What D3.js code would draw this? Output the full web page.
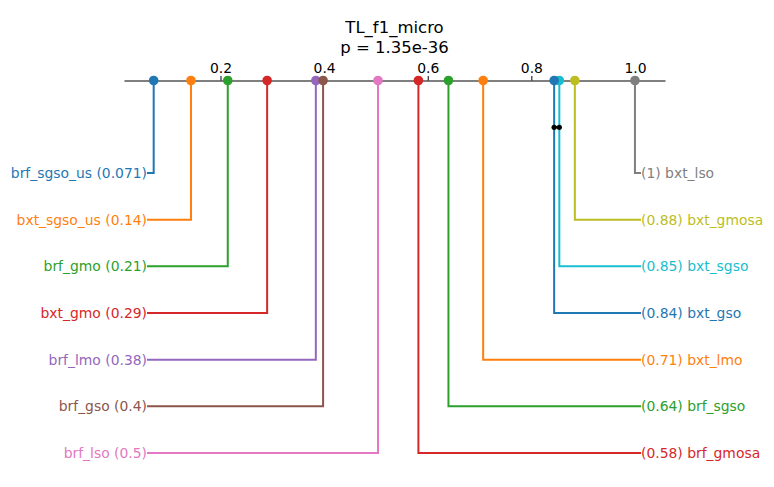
<!DOCTYPE html>
<html>
<head>
<meta charset="utf-8">
<script src="https://cdn.jsdelivr.net/npm/d3@7"></script>
<style>
  html, body { margin: 0; padding: 0; background: #fff; }
  svg { display: block; font-family: "DejaVu Sans", sans-serif; }
</style>
</head>
<body>
<svg id="chart" width="774" height="487"></svg>
<script>
// ---- data ----
const title = "TL_f1_micro";
const pValue = "p = 1.35e-36";
const methods = ["brf_sgso_us", "bxt_sgso_us", "brf_gmo", "bxt_gmo", "brf_lmo", "brf_gso", "brf_lso",
                 "brf_gmosa", "brf_sgso", "bxt_lmo", "bxt_gso", "bxt_sgso", "bxt_gmosa", "bxt_lso"];
const scores = [0.071, 0.143, 0.214, 0.29, 0.384, 0.398, 0.504,
                0.582, 0.64, 0.707, 0.844, 0.854, 0.884, 1.0];
const cliques = [["bxt_gso", "bxt_sgso"]];
const tickValues = [0.2, 0.4, 0.6, 0.8, 1.0];
const axisDomain = [0.0137, 1.058];

// ---- layout ----
const svg = d3.select("#chart");
const colors = d3.schemeCategory10;
const axisY = 80.5;
const x = d3.scaleLinear().domain(axisDomain).range([124, 665]);

const items = methods.map((m, i) => ({ name: m, v: scores[i] }))
  .sort((a, b) => a.v - b.v);
const nLeft = Math.ceil(items.length / 2);
const left = items.slice(0, nLeft);
const right = items.slice(nLeft).reverse();

const rowY = d3.scalePoint().domain(d3.range(nLeft)).range([173, 453]);
const leftX = 147, rightX = 641;

const fmt = d3.format(".2~g");

left.forEach((d, i) => { d.side = "L"; d.row = i; d.color = colors[i % 10]; });
right.forEach((d, i) => { d.side = "R"; d.row = i; d.color = colors[(nLeft + i) % 10]; });
const ordered = left.concat(right);

// title
svg.append("text").attr("x", 394.5).attr("y", 32.5).attr("text-anchor", "middle")
  .attr("font-size", "16.5px").attr("fill", "#000").text(title);
svg.append("text").attr("x", 394.5).attr("y", 52.5).attr("text-anchor", "middle")
  .attr("font-size", "16.5px").attr("fill", "#000").text(pValue);

// axis
const axis = d3.axisTop(x).tickValues(tickValues).tickFormat(d3.format(".1f"))
  .tickSizeInner(4.5).tickSizeOuter(0).tickPadding(3.5);
const gAxis = svg.append("g").attr("transform", `translate(0,${axisY})`).call(axis);
gAxis.select(".domain").attr("stroke", "#000").attr("stroke-width", 1.2);
gAxis.selectAll(".tick line").attr("stroke", "#000").attr("stroke-width", 1);
gAxis.selectAll(".tick text").attr("fill", "#000").attr("font-size", "13.9px")
  .attr("font-family", "DejaVu Sans, sans-serif");

// connector lines
const gLines = svg.append("g");
ordered.forEach(d => {
  const px = x(d.v), py = rowY(d.row);
  const ex = d.side === "L" ? leftX : rightX;
  gLines.append("path")
    .attr("d", `M${px},${axisY}V${py}H${ex}`)
    .attr("fill", "none").attr("stroke", d.color).attr("stroke-width", 2);
  svg.append("text")
    .attr("x", d.side === "L" ? leftX : rightX)
    .attr("y", py)
    .attr("dy", "0.36em")
    .attr("text-anchor", d.side === "L" ? "end" : "start")
    .attr("font-size", "13.9px")
    .attr("fill", d.color)
    .text(d.side === "L" ? `${d.name} (${fmt(d.v)})` : `(${fmt(d.v)}) ${d.name}`);
});

// dots on the axis
ordered.forEach(d => {
  svg.append("circle").attr("cx", x(d.v)).attr("cy", axisY).attr("r", 4.8).attr("fill", d.color);
});

// cliques
cliques.forEach(c => {
  const vs = c.map(n => scores[methods.indexOf(n)]);
  const y = 127.3;
  svg.append("line").attr("x1", x(d3.min(vs))).attr("x2", x(d3.max(vs)))
    .attr("y1", y).attr("y2", y).attr("stroke", "#000").attr("stroke-width", 2);
  vs.forEach(v => svg.append("circle").attr("cx", x(v)).attr("cy", y).attr("r", 2.6).attr("fill", "#000"));
});
</script>
</body>
</html>
